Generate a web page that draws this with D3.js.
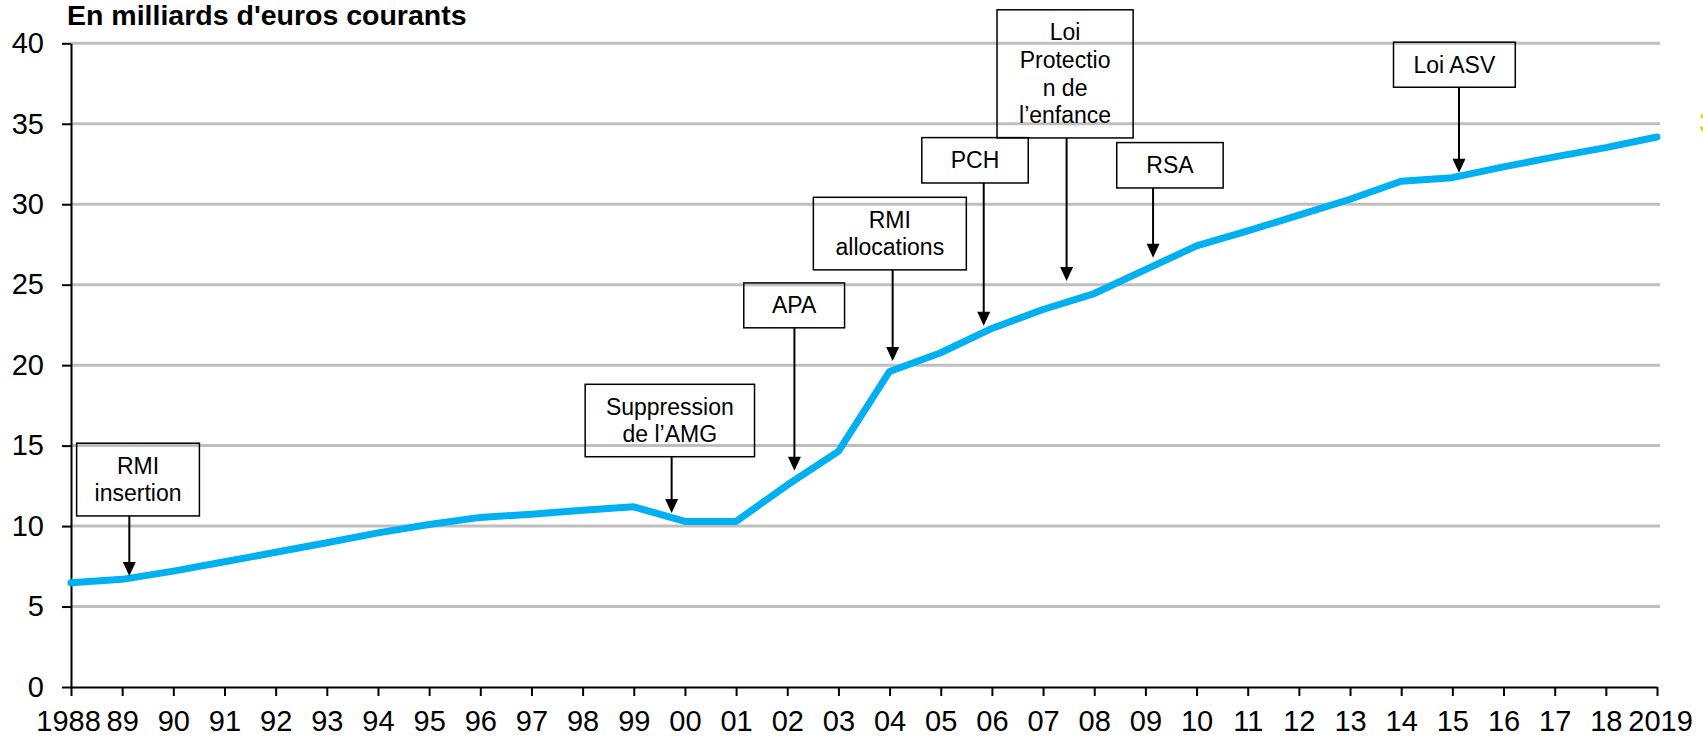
<!DOCTYPE html>
<head>
    <meta charset="utf-8">
    <style>
        body {
            margin: 0;
            padding: 0;
            background: #fff;
        }
        svg {
            display: block;
            font-family: "Liberation Sans", Arial, sans-serif;
        }
        .axis path, .axis line {
            stroke: #000;
            stroke-width: 2px;
        }
        .axis text {
            font-size: 29px;
            fill: #000;
        }
        .grid line {
            stroke: #bfbfbf;
            stroke-width: 3px;
        }
        .note rect {
            fill: none;
            stroke: #000;
            stroke-width: 1.5px;
        }
        .note text {
            font-size: 23px;
            fill: #000;
            text-anchor: middle;
        }
    </style>
    <script src="https://d3js.org/d3.v7.min.js"></script>
</head>
<body>
    <svg width="1703" height="741"></svg>
    <script>
        // data
        var years = [1988, 1989, 1990, 1991, 1992, 1993, 1994, 1995, 1996, 1997, 1998, 1999,
            2000, 2001, 2002, 2003, 2004, 2005, 2006, 2007, 2008, 2009, 2010, 2011,
            2012, 2013, 2014, 2015, 2016, 2017, 2018, 2019];
        var values = [6.48, 6.69, 7.2, 7.78, 8.37, 8.96, 9.58, 10.1, 10.54, 10.74, 10.99, 11.2,
            10.29, 10.29, 12.55, 14.64, 19.61, 20.77, 22.28, 23.46, 24.45, 25.94, 27.41, 28.34,
            29.32, 30.31, 31.43, 31.65, 32.32, 32.94, 33.52, 34.18];
        var tickLabels = ["1988", "89", "90", "91", "92", "93", "94", "95", "96", "97", "98", "99",
            "00", "01", "02", "03", "04", "05", "06", "07", "08", "09", "10", "11",
            "12", "13", "14", "15", "16", "17", "18", "2019"];
        var yTicks = [0, 5, 10, 15, 20, 25, 30, 35, 40];

        // annotations (anchored in data units: years / milliards)
        var noteLabels = [
            ["RMI", "insertion"],
            ["Suppression", "de l\u2019AMG"],
            ["APA"],
            ["RMI", "allocations"],
            ["PCH"],
            ["Loi", "Protectio", "n de", "l\u2019enfance"],
            ["RSA"],
            ["Loi ASV"]
        ];
        var noteYear   = [1989.14, 1999.74, 2002.14, 2004.06, 2005.84, 2007.46, 2009.15, 2015.13];
        var noteTip    = [6.9, 10.81, 13.44, 20.26, 22.45, 25.23, 26.68, 31.96];
        var boxLeft    = [1988.11, 1998.05, 2001.15, 2002.51, 2004.63, 2006.10, 2008.44, 2013.85];
        var boxRight   = [1990.51, 2001.36, 2003.12, 2005.50, 2006.71, 2008.76, 2010.52, 2016.23];
        var boxTop     = [15.15, 18.81, 25.11, 30.43, 34.14, 42.08, 33.83, 40.07];
        var boxBottom  = [10.63, 14.31, 22.32, 25.92, 31.32, 34.12, 31.01, 37.27];

        // svg
        var svg = d3.select("svg"),
            margin = {top: 43.3, left: 71},
            width = 1586,
            height = 643.7;

        var g = svg.append("g")
            .attr("transform", "translate(" + margin.left + "," + margin.top + ")");

        var x = d3.scaleLinear().domain([1988, 2019]).range([0, width]);
        var y = d3.scaleLinear().domain([0, 40]).range([height, 0]);

        // title
        svg.append("text")
            .attr("x", 67)
            .attr("y", 25)
            .style("font-size", "28.5px")
            .style("font-weight", "bold")
            .text("En milliards d'euros courants");

        // cut-off label at the right edge
        svg.append("text")
            .attr("x", 1699)
            .attr("y", 132)
            .style("font-size", "28px")
            .style("fill", "#ffc000")
            .text("34");

        // grid
        g.append("g")
            .attr("class", "grid")
            .selectAll("line")
            .data(yTicks.filter(function (d) { return d > 0; }))
            .enter().append("line")
                .attr("x1", 0)
                .attr("x2", width + 3)
                .attr("y1", function (d) { return y(d); })
                .attr("y2", function (d) { return y(d); });

        // axes
        var xAxis = g.append("g")
            .attr("class", "axis")
            .attr("transform", "translate(0," + height + ")")
            .call(d3.axisBottom(x)
                .tickValues(years)
                .tickFormat(function (d, i) { return tickLabels[i]; })
                .tickSize(9)
                .tickSizeOuter(0)
                .tickPadding(14));

        // first and last labels sit a little outward, as in the original
        xAxis.selectAll(".tick text")
            .attr("dx", function (d, i) { return i === 0 ? -3 : (i === years.length - 1 ? 3 : 0); });

        g.append("g")
            .attr("class", "axis")
            .call(d3.axisLeft(y)
                .tickValues(yTicks)
                .tickSize(9)
                .tickSizeOuter(0)
                .tickPadding(18));

        g.selectAll(".axis .domain").attr("stroke", "#000");

        // line
        var line = d3.line()
            .x(function (d, i) { return x(years[i]); })
            .y(function (d) { return y(d); });

        g.append("path")
            .datum(values)
            .attr("fill", "none")
            .attr("stroke", "#00b0f0")
            .attr("stroke-width", 7)
            .attr("stroke-linejoin", "round")
            .attr("stroke-linecap", "round")
            .attr("d", line);

        // notes: box + arrow
        var notes = g.selectAll(".note")
            .data(noteLabels)
            .enter().append("g")
                .attr("class", "note");

        notes.append("rect")
            .attr("x", function (d, i) { return x(boxLeft[i]); })
            .attr("y", function (d, i) { return y(boxTop[i]); })
            .attr("width", function (d, i) { return x(boxRight[i]) - x(boxLeft[i]); })
            .attr("height", function (d, i) { return y(boxBottom[i]) - y(boxTop[i]); });

        notes.each(function (lines, i) {
            var cx = (x(boxLeft[i]) + x(boxRight[i])) / 2,
                cy = (y(boxTop[i]) + y(boxBottom[i])) / 2,
                step = 27.6;
            d3.select(this).selectAll("text")
                .data(lines)
                .enter().append("text")
                    .attr("x", cx)
                    .attr("y", function (t, k) { return cy + (k - (lines.length - 1) / 2) * step + 8; })
                    .text(function (t) { return t; });
        });

        notes.append("line")
            .attr("x1", function (d, i) { return x(noteYear[i]); })
            .attr("x2", function (d, i) { return x(noteYear[i]); })
            .attr("y1", function (d, i) { return y(boxBottom[i]); })
            .attr("y2", function (d, i) { return y(noteTip[i]) - 10; })
            .attr("stroke", "#000")
            .attr("stroke-width", 2);

        notes.append("path")
            .attr("fill", "#000")
            .attr("d", function (d, i) {
                var ax = x(noteYear[i]), ty = y(noteTip[i]);
                return "M" + ax + "," + ty + "L" + (ax - 6.5) + "," + (ty - 14) + "L" + (ax + 6.5) + "," + (ty - 14) + "Z";
            });
    </script>
</body>
</html>
